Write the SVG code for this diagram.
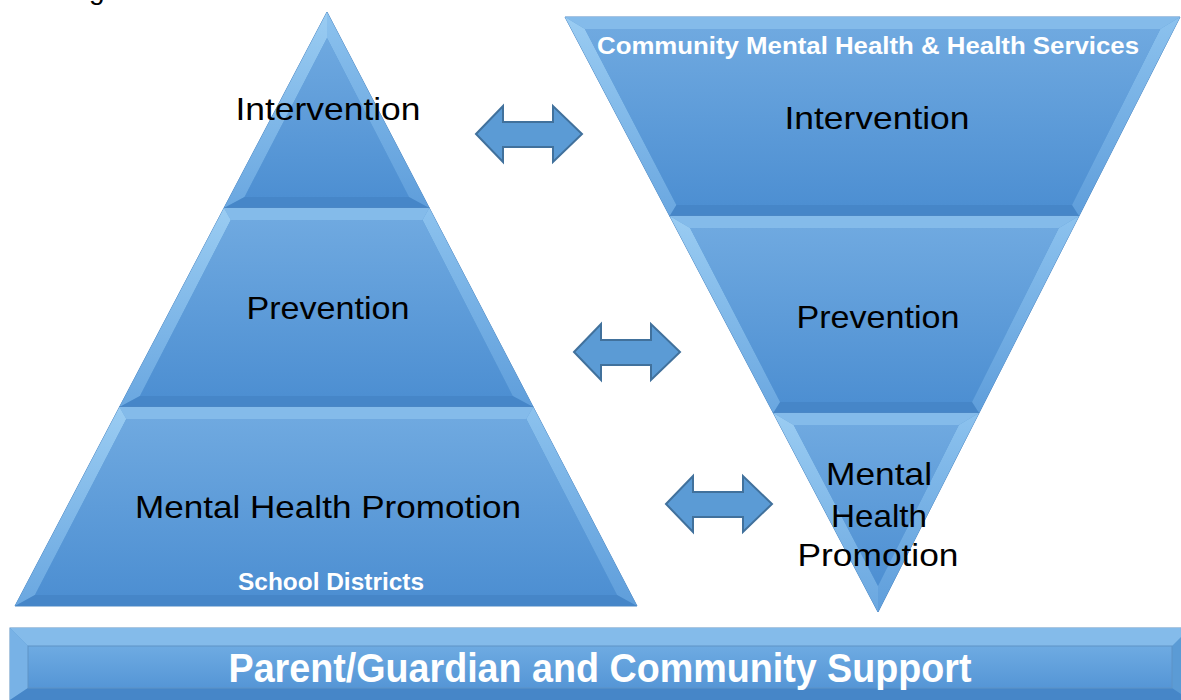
<svg xmlns="http://www.w3.org/2000/svg" width="1181" height="700" viewBox="0 0 1181 700">
<defs>
<linearGradient id="face" x1="0" y1="0" x2="0" y2="1">
<stop offset="0" stop-color="#6fa9e0"/>
<stop offset="1" stop-color="#4d8fd2"/>
</linearGradient>
<linearGradient id="bevL" x1="0" y1="0" x2="0" y2="1">
<stop offset="0" stop-color="#9accf2"/>
<stop offset="1" stop-color="#6aa7e0"/>
</linearGradient>
<linearGradient id="bevR" x1="0" y1="0" x2="0" y2="1">
<stop offset="0" stop-color="#8cc2ee"/>
<stop offset="1" stop-color="#5f9edb"/>
</linearGradient>
<linearGradient id="barFace" x1="0" y1="0" x2="0" y2="1">
<stop offset="0" stop-color="#6eabe2"/>
<stop offset="1" stop-color="#5596d6"/>
</linearGradient>
</defs>
<style>
.outer{fill:#5b9bd5;stroke:#4f89c4;stroke-width:1}
.bl{fill:url(#bevL)}
.br{fill:url(#bevR)}
.bt{fill:#84bbea}
.bb{fill:#4686c8}
.face{fill:url(#face)}
.lbl{font-family:"Liberation Sans",Arial,sans-serif;font-size:32px;fill:#000;text-anchor:middle}
.wb{font-family:"Liberation Sans",Arial,sans-serif;font-weight:bold;fill:#fff;text-anchor:middle}
.arrow{fill:#5b9bd5;stroke:#41719c;stroke-width:2;stroke-linejoin:miter}
</style>
<rect width="1181" height="700" fill="#fff"/>
<text x="89" y="-1" font-family="Liberation Sans, Arial, sans-serif" font-size="28" fill="#000">g</text>

<!-- Left pyramid -->
<g id="left-intervention">
<polygon class="outer" points="327,12 224,208 429.3,208"/>
<polygon class="bl" points="327,12 224,208 244.5,197 327,38"/>
<polygon class="br" points="327,12 429.3,208 409,197 327,38"/>
<polygon class="bb" points="224,208 429.3,208 409,197 244.5,197"/>
<polygon class="face" points="327,38 244.5,197 409,197"/>
<text class="lbl" x="328" y="120" textLength="185" lengthAdjust="spacingAndGlyphs">Intervention</text>
</g>
<g id="left-prevention">
<polygon class="outer" points="224,208 429.3,208 533.2,407 119.5,407"/>
<polygon class="bt" points="224,208 429.3,208 422.5,220 230.8,220"/>
<polygon class="bl" points="224,208 230.8,220 139.9,396 119.5,407"/>
<polygon class="br" points="429.3,208 422.5,220 512.8,396 533.2,407"/>
<polygon class="bb" points="119.5,407 533.2,407 512.8,396 139.9,396"/>
<polygon class="face" points="230.8,220 422.5,220 512.8,396 139.9,396"/>
<text class="lbl" x="328" y="319" textLength="163" lengthAdjust="spacingAndGlyphs">Prevention</text>
</g>
<g id="left-promotion">
<polygon class="outer" points="119.5,407 533.2,407 637,606 15,606"/>
<polygon class="bt" points="119.5,407 533.2,407 526.3,419 126.3,419"/>
<polygon class="bl" points="119.5,407 126.3,419 34.9,595 15,606"/>
<polygon class="br" points="533.2,407 526.3,419 617.1,595 637,606"/>
<polygon class="bb" points="15,606 637,606 617.1,595 34.9,595"/>
<polygon class="face" points="126.3,419 526.3,419 617.1,595 34.9,595"/>
<text class="lbl" x="328" y="518" textLength="386" lengthAdjust="spacingAndGlyphs">Mental Health Promotion</text>
<text class="wb" x="331" y="590" font-size="23" textLength="186" lengthAdjust="spacingAndGlyphs">School Districts</text>
</g>

<!-- Right inverted pyramid -->
<g id="right-intervention">
<polygon class="outer" points="565,17 1180,17 1079,216 669.7,216"/>
<polygon class="bt" points="565,17 1180,17 1160.3,29 584.9,29"/>
<polygon class="bl" points="565,17 584.9,29 676.4,205 669.7,216"/>
<polygon class="br" points="1180,17 1160.3,29 1072,205 1079,216"/>
<polygon class="bb" points="669.7,216 1079,216 1072,205 676.4,205"/>
<polygon class="face" points="584.9,29 1160.3,29 1072,205 676.4,205"/>
<text class="wb" x="868" y="54" font-size="23" textLength="542" lengthAdjust="spacingAndGlyphs">Community Mental Health &amp; Health Services</text>
<text class="lbl" x="877" y="129" textLength="185" lengthAdjust="spacingAndGlyphs">Intervention</text>
</g>
<g id="right-prevention">
<polygon class="outer" points="669.7,216 1079,216 979,413 773.3,413"/>
<polygon class="bt" points="669.7,216 1079,216 1058.8,228 690.1,228"/>
<polygon class="bl" points="669.7,216 690.1,228 780.1,402 773.3,413"/>
<polygon class="br" points="1079,216 1058.8,228 972,402 979,413"/>
<polygon class="bb" points="773.3,413 979,413 972,402 780.1,402"/>
<polygon class="face" points="690.1,228 1058.8,228 972,402 780.1,402"/>
<text class="lbl" x="878" y="328" textLength="163" lengthAdjust="spacingAndGlyphs">Prevention</text>
</g>
<g id="right-promotion">
<polygon class="outer" points="773.3,413 979,413 878,612"/>
<polygon class="bt" points="773.3,413 979,413 958.8,425 793.7,425"/>
<polygon class="bl" points="773.3,413 793.7,425 878,586 878,612"/>
<polygon class="br" points="979,413 958.8,425 878,586 878,612"/>
<polygon class="face" points="793.7,425 958.8,425 878,586"/>
<text class="lbl" x="879" y="485" textLength="106" lengthAdjust="spacingAndGlyphs">Mental</text>
<text class="lbl" x="879" y="527" textLength="96" lengthAdjust="spacingAndGlyphs">Health</text>
<text class="lbl" x="878" y="566" textLength="161" lengthAdjust="spacingAndGlyphs">Promotion</text>
</g>

<!-- Bottom bar -->
<g id="support-bar">
<rect x="10" y="628" width="1180" height="72" fill="#5b9bd5" stroke="#5a8fc2" stroke-width="1"/>
<polygon class="bt" points="10,628 1190,628 1172,646 28,646"/>
<polygon fill="#78b2e6" points="10,628 28,646 28,688 10,700"/>
<polygon class="bb" points="10,700 1190,700 1172,688 28,688"/>
<rect x="28" y="646" width="1144" height="42" fill="url(#barFace)" stroke="#5e93c6" stroke-width="1"/>
<text class="wb" x="600" y="682" font-size="40" textLength="743" lengthAdjust="spacingAndGlyphs">Parent/Guardian and Community Support</text>
</g>

<!-- Connectors -->
<g id="connectors">
<path class="arrow" d="M476,134 L503,106 L503,122 L553,122 L553,106 L582,134 L553,162 L553,147 L503,147 L503,162 Z"/>
<path class="arrow" transform="translate(98,218)" d="M476,134 L503,106 L503,122 L553,122 L553,106 L582,134 L553,162 L553,147 L503,147 L503,162 Z"/>
<path class="arrow" transform="translate(190,370)" d="M476,134 L503,106 L503,122 L553,122 L553,106 L582,134 L553,162 L553,147 L503,147 L503,162 Z"/>
</g>
</svg>
